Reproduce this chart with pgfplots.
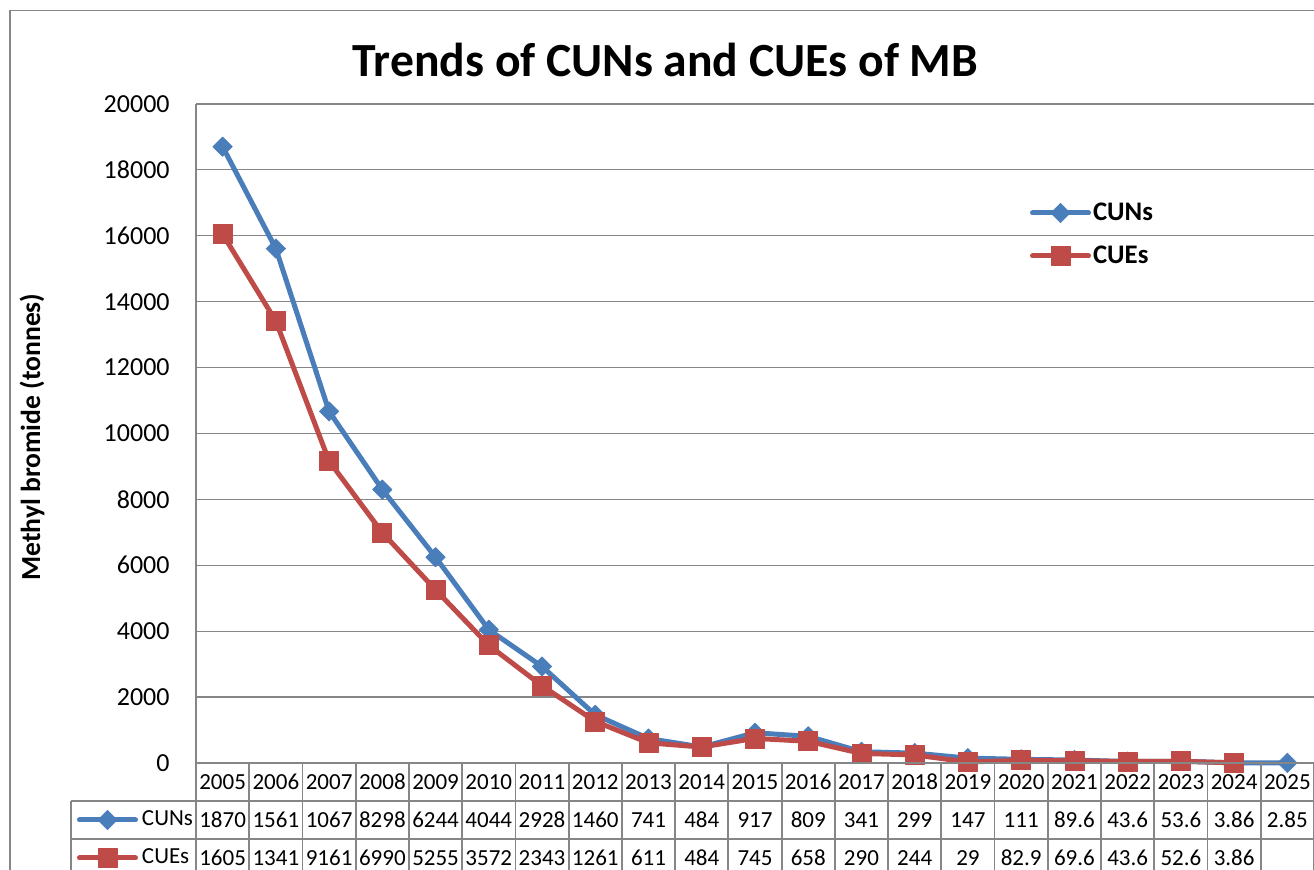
\documentclass[border=0pt]{standalone}
\usepackage{pgfplots}
\pgfplotsset{compat=1.18}
\usepackage{pgfplotstable}
\usepackage{fontspec}
\setmainfont{Carlito}
\definecolor{cunblue}{HTML}{4A7EBB}
\definecolor{cuered}{HTML}{BE4B48}
\definecolor{gridgray}{HTML}{868686}

\pgfplotstableread{
x y
0 18704
1 15611
2 10670
3 8298
4 6244
5 4044
6 2928
7 1460
8 741
9 484
10 917
11 809
12 341
13 299
14 147
15 111
16 89.6
17 43.6
18 53.6
19 3.86
20 2.85
}\cuntable

\pgfplotstableread{
x y
0 16050
1 13410
2 9161
3 6990
4 5255
5 3572
6 2343
7 1261
8 611
9 484
10 745
11 658
12 290
13 244
14 29
15 82.9
16 69.6
17 43.6
18 52.6
19 3.86
}\cuetable

\pgfplotsset{
  cunstyle/.style={color=cunblue, line width=2.5pt, line cap=round, line join=round,
    mark=square*, mark size=3.4pt, mark options={rotate=45, solid, line width=0.4pt}},
  cuestyle/.style={color=cuered, line width=2.5pt, line cap=round, line join=round,
    mark=square*, mark size=4.75pt, mark options={solid, line width=0.4pt}},
  mylegimg/.style={legend image code/.code={\draw[mark repeat=2,mark phase=2,##1] plot coordinates {(0pt,0pt) (14pt,0pt) (28pt,0pt)};}},
}

\begin{document}
\begin{tikzpicture}
\begin{axis}[
  at={(0pt,0pt)}, anchor=south west,
  scale only axis, width=559pt, height=329.5pt,
  xmin=-0.5, xmax=20.5, ymin=0, ymax=20000,
  xtick=\empty,
  ytick={0,2000,...,20000},
  scaled y ticks=false,
  /pgf/number format/assume math mode=true,
  /pgf/number format/1000 sep={},
  yticklabel style={font=\fontsize{13}{15}\selectfont, inner sep=0pt, xshift=-13pt},
  major tick length=0pt,
  ymajorgrids, grid style={gridgray, line width=0.6pt},
  axis line style={draw=none},
  clip=false,
  mylegimg,
  legend cell align=left,
  legend style={at={(0.7460,0.8672)}, anchor=north west, draw=none, fill=none,
    inner sep=0pt, outer sep=0pt, row sep=0pt, column sep=1pt,
    font=\fontsize{13.4}{16}\selectfont\bfseries,
    nodes={inner sep=0pt, minimum height=21.5pt}},
]
\addplot[cunstyle] table[x=x, y=y] {\cuntable};
\addlegendentry{CUNs}
\addplot[cuestyle] table[x=x, y=y] {\cuetable};
\addlegendentry{CUEs}
\end{axis}

\begin{axis}[
  at={(0pt,0pt)}, anchor=south west,
  scale only axis, width=559pt, height=329.5pt,
  hide axis, xmin=0, xmax=1, ymin=0, ymax=1,
  mylegimg,
  legend cell align=left,
  legend style={at={(-0.10644,-0.05766)}, anchor=north west, draw=none, fill=none,
    inner sep=0pt, outer sep=0pt, row sep=0pt, column sep=2pt,
    font=\fontsize{11.5}{13}\selectfont,
    nodes={inner sep=0pt, minimum height=19pt}},
]
\addlegendimage{cunstyle}
\addlegendentry{CUNs}
\addlegendimage{cuestyle}
\addlegendentry{CUEs}
\end{axis}

% outer chart border
\draw[gridgray, line width=0.8pt] (-93pt,-70pt) -- (-93pt,376.2pt) -- (580pt,376.2pt);
% y axis line
\draw[gridgray, line width=0.8pt] (0pt,329.5pt) -- (0pt,-60pt);
% data table lines
\draw[gridgray, line width=0.9pt] (0pt,0pt) -- (570pt,0pt);
\draw[gridgray, line width=0.9pt] (-62.5pt,-19pt) -- (570pt,-19pt);
\draw[gridgray, line width=0.9pt] (-62.5pt,-38pt) -- (570pt,-38pt);
\draw[gridgray, line width=0.9pt] (-62.5pt,-19pt) -- (-62.5pt,-60pt);
\foreach \k in {1,...,21} {
  \draw[gridgray, line width=0.9pt] ({\k*26.619pt},0pt) -- ({\k*26.619pt},-60pt);
}
\begin{scope}[every node/.style={font=\fontsize{11.5}{13}\selectfont, inner sep=0pt}]
\foreach \lab [count=\i from 0] in {2005,2006,2007,2008,2009,2010,2011,2012,2013,2014,2015,2016,2017,2018,2019,2020,2021,2022,2023,2024,2025} {
  \node at ({(\i+0.5)*26.619pt},-9.5pt) {\lab};
}
\foreach \lab [count=\i from 0] in {1870,1561,1067,8298,6244,4044,2928,1460,741,484,917,809,341,299,147,111,89.6,43.6,53.6,3.86,2.85} {
  \node at ({(\i+0.5)*26.619pt},-28.5pt) {\lab};
}
\foreach \lab [count=\i from 0] in {1605,1341,9161,6990,5255,3572,2343,1261,611,484,745,658,290,244,29,82.9,69.6,43.6,52.6,3.86} {
  \node at ({(\i+0.5)*26.619pt},-47.5pt) {\lab};
}
\end{scope}

% title and y label
\node[anchor=base, font=\fontsize{23.8}{28}\selectfont\bfseries] at (234.75pt,343pt) {Trends of CUNs and CUEs of MB};
\node[rotate=90, font=\fontsize{13.8}{16}\selectfont\bfseries] at (-82pt,163pt) {Methyl bromide (tonnes)};

\pgfresetboundingbox
\useasboundingbox (-98pt,-53.5pt) rectangle (559pt,381.5pt);
\end{tikzpicture}
\end{document}
